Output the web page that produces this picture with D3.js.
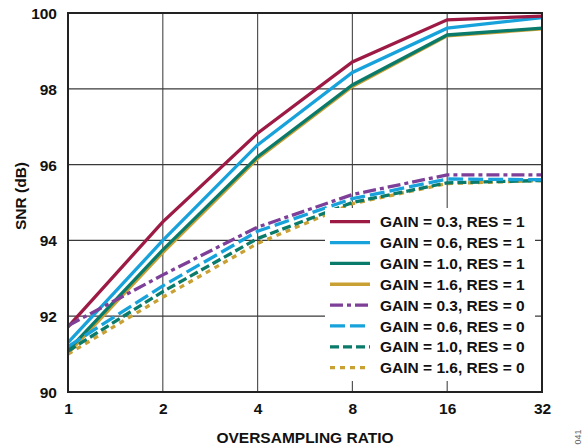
<!DOCTYPE html>
<html>
<head>
<meta charset="utf-8">
<script src="https://cdn.jsdelivr.net/npm/d3@7"></script>
<style>
  html, body { margin: 0; padding: 0; background: #fff; }
  svg { display: block; font-family: "Liberation Sans", Arial, sans-serif; }
</style>
</head>
<body>
<svg id="chart" width="584" height="448"></svg>
<script>
// ---- data ----
const ratios = [1, 2, 4, 8, 16, 32];
const yTicks = [90, 92, 94, 96, 98, 100];
const seriesNames = [
  "GAIN = 0.3, RES = 1", "GAIN = 0.6, RES = 1", "GAIN = 1.0, RES = 1", "GAIN = 1.6, RES = 1",
  "GAIN = 0.3, RES = 0", "GAIN = 0.6, RES = 0", "GAIN = 1.0, RES = 0", "GAIN = 1.6, RES = 0"
];
const gain03res1 = [91.72, 94.49, 96.83, 98.71, 99.82, 99.92];
const gain06res1 = [91.30, 94.00, 96.52, 98.43, 99.60, 99.88];
const gain10res1 = [91.10, 93.75, 96.21, 98.10, 99.42, 99.60];
const gain16res1 = [91.02, 93.68, 96.16, 98.06, 99.40, 99.58];
const gain03res0 = [91.75, 93.09, 94.35, 95.21, 95.73, 95.73];
const gain06res0 = [91.20, 92.80, 94.24, 95.10, 95.62, 95.60];
const gain10res0 = [91.08, 92.65, 94.05, 95.00, 95.52, 95.58];
const gain16res0 = [91.00, 92.50, 93.92, 94.97, 95.50, 95.58];
const seriesValues = [gain03res1, gain06res1, gain10res1, gain16res1, gain03res0, gain06res0, gain10res0, gain16res0];

// ---- styles ----
const colors = ["#9d1a45", "#17a2db", "#0a7b6b", "#c9a033", "#7d3f98", "#17a2db", "#0a7b6b", "#c9a033"];
const dashes = [null, null, null, null, "13,4,4,4", "15,5", "9,4", "5,5"];
const drawOrder = [3, 2, 1, 0, 7, 6, 5, 4];
const fs = 15.5;

const svg = d3.select("#chart");
const pL = 68, pR = 542, pT = 13, pB = 392;

const x = d3.scaleLog().base(2).domain([1, 32]).range([pL, pR]);
const y = d3.scaleLinear().domain([90, 100]).range([pB, pT]);

// grid
const g = svg.append("g");
g.selectAll("line.vg").data(ratios.slice(1, -1)).join("line")
  .attr("x1", d => x(d)).attr("x2", d => x(d)).attr("y1", pT).attr("y2", pB)
  .attr("stroke", "#555").attr("stroke-width", 1.2);
g.selectAll("line.hg").data(yTicks.slice(1, -1)).join("line")
  .attr("y1", d => y(d)).attr("y2", d => y(d)).attr("x1", pL).attr("x2", pR)
  .attr("stroke", "#3a3a3a").attr("stroke-width", 1.3);

// axes (labels only, via d3 axes)
const xAxis = d3.axisBottom(x).tickValues(ratios).tickFormat(d3.format("d")).tickSize(0).tickPadding(8);
const yAxis = d3.axisLeft(y).tickValues(yTicks).tickSize(0).tickPadding(11);
const xa = svg.append("g").attr("transform", `translate(0,${pB})`).call(xAxis);
const ya = svg.append("g").attr("transform", `translate(${pL},0)`).call(yAxis);
[xa, ya].forEach(a => {
  a.select(".domain").remove();
  a.selectAll("text").attr("font-size", fs).attr("font-weight", "bold").attr("fill", "#111")
    .attr("font-family", "Liberation Sans, Arial, sans-serif");
});
xa.selectAll("text").attr("dy", "0.92em");
ya.selectAll("text").attr("dy", "0.36em");

// lines
const line = d3.line().x((d, i) => x(ratios[i])).y(d => y(d));
const lg = svg.append("g");
drawOrder.forEach(k => {
  lg.append("path").datum(seriesValues[k])
    .attr("d", line)
    .attr("fill", "none")
    .attr("stroke", colors[k])
    .attr("stroke-width", 3.3)
    .attr("stroke-dasharray", dashes[k]);
});

// frame
svg.append("rect").attr("x", pL).attr("y", pT).attr("width", pR - pL).attr("height", pB - pT)
  .attr("fill", "none").attr("stroke", "#222").attr("stroke-width", 2);

// legend
const leg = svg.append("g");
leg.append("rect").attr("x", 325).attr("y", 208).attr("width", 210).attr("height", 173).attr("fill", "#fff");
seriesNames.forEach((name, i) => {
  const yy = 221.7 + i * 20.85;
  leg.append("line").attr("x1", 330).attr("x2", 370).attr("y1", yy).attr("y2", yy)
    .attr("stroke", colors[i]).attr("stroke-width", 3.3).attr("stroke-dasharray", dashes[i]);
  leg.append("text").attr("x", 380).attr("y", yy).attr("dy", "0.36em")
    .attr("font-size", fs).attr("font-weight", "bold").attr("fill", "#111").text(name);
});

// axis titles
svg.append("text").attr("x", (pL + pR) / 2).attr("y", 443).attr("text-anchor", "middle")
  .attr("font-size", fs).attr("font-weight", "bold").attr("fill", "#111").text("OVERSAMPLING RATIO");
svg.append("text").attr("transform", "translate(26,196) rotate(-90)").attr("text-anchor", "middle")
  .attr("font-size", fs).attr("font-weight", "bold").attr("fill", "#111").text("SNR (dB)");
svg.append("text").attr("transform", "translate(581,437) rotate(-90)").attr("text-anchor", "middle")
  .attr("font-size", 9).attr("fill", "#666").text("041");
</script>
</body>
</html>
